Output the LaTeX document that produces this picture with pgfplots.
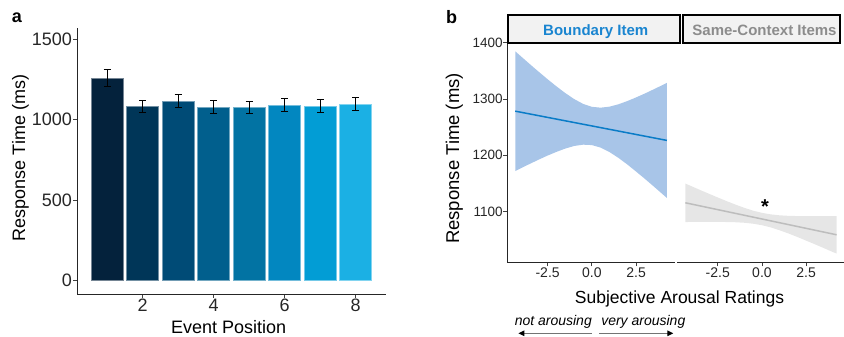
\documentclass[border=0pt]{standalone}
\usepackage{fontspec}
\setmainfont{Liberation Sans}
\usepackage{pgfplots}
\pgfplotsset{compat=1.18}
\usetikzlibrary{arrows.meta}
\definecolor{c1}{HTML}{04223C}
\definecolor{c2}{HTML}{003658}
\definecolor{c3}{HTML}{004B76}
\definecolor{c4}{HTML}{015F8D}
\definecolor{c5}{HTML}{0273A3}
\definecolor{c6}{HTML}{0287C0}
\definecolor{c7}{HTML}{029DD5}
\definecolor{c8}{HTML}{1BB0E4}
\definecolor{bandblue}{HTML}{A8C5E8}
\definecolor{lineblue}{HTML}{0A7CC7}
\definecolor{bandgray}{HTML}{E6E6E6}
\definecolor{linegray}{HTML}{BDBDBD}
\definecolor{stripfill}{HTML}{F2F2F2}
\definecolor{stripblue}{HTML}{1A85D0}
\definecolor{stripgray}{HTML}{8C8C8C}
\pgfplotsset{
  errb/.style={ybar, bar width=0.9, bar shift=0pt, fill=#1, draw=#1!55!white, line width=0.5bp,
    error bars/.cd, y dir=both, y explicit,
    error bar style={line width=1bp, black},
    error mark options={rotate=90, mark size=3.5bp, line width=1bp, black}},
}
\begin{document}
\begin{tikzpicture}
\useasboundingbox (0,0) rectangle (844bp,337bp);
% ---------------- panel a
\begin{axis}[
  at={(77bp,43bp)}, anchor=south west, scale only axis,
  width=308.7bp, height=266bp,
  xmin=0.155, xmax=8.845, ymin=-82.6, ymax=1570.2,
  axis x line=bottom, axis y line=left,
  axis line style={-, line width=0.8bp, black!85},
  tick align=outside, major tick length=3.5bp,
  tick style={line width=0.8bp, black!75},
  xtick={2,4,6,8}, xticklabels={2,4,6,8},
  ytick={0,500,1000,1500}, yticklabels={0,500,1000,1500},
  ticklabel style={font=\fontsize{18bp}{20bp}\selectfont, text=black!85},
  yticklabel style={inner sep=1.5bp}, xticklabel style={inner sep=1.5bp},
  clip=false,
]
\addplot[errb=c1] coordinates {(1,1260) +- (0,52)};
\addplot[errb=c2] coordinates {(2,1084) +- (0,37)};
\addplot[errb=c3] coordinates {(3,1115) +- (0,40)};
\addplot[errb=c4] coordinates {(4,1077) +- (0,40)};
\addplot[errb=c5] coordinates {(5,1078) +- (0,37)};
\addplot[errb=c6] coordinates {(6,1092) +- (0,39)};
\addplot[errb=c7] coordinates {(7,1086) +- (0,39)};
\addplot[errb=c8] coordinates {(8,1099) +- (0,40)};
\end{axis}
% ---------------- panel b, left facet
\begin{axis}[
  at={(507.3bp,74.7bp)}, anchor=south west, scale only axis,
  width=167.7bp, height=219.6bp,
  xmin=-4.78, xmax=4.70, ymin=1009.6, ymax=1400,
  axis x line=bottom, axis y line=left,
  axis line style={-, line width=0.8bp, black!85},
  tick align=outside, major tick length=4bp,
  tick style={line width=0.8bp, black!75},
  xtick={-2.5,0,2.5}, xticklabels={-2.5,0.0,2.5},
  ytick={1100,1200,1300,1400}, yticklabels={1100,1200,1300,1400},
  xticklabel style={font=\fontsize{14bp}{16bp}\selectfont, text=black!85, inner sep=1.5bp},
  yticklabel style={font=\fontsize{13.5bp}{15bp}\selectfont, text=black!85, inner sep=0.5bp},
]
\addplot[fill=bandblue, draw=none] coordinates {
(-4.33,1384.7) (-4,1375.5) (-3.5,1361.7) (-3,1348.2) (-2.5,1335.0) (-2,1322.3) (-1.5,1310.4)
(-1,1299.8) (-0.5,1291.3) (0,1286.0) (0.5,1284.5) (1,1286.3) (1.5,1290.5) (2,1296.2)
(2.5,1302.7) (3,1309.7) (3.5,1317.2) (4,1324.8) (4.24,1328.6)
(4.24,1124.0) (4,1130.6) (3.5,1144.4) (3,1157.9) (2.5,1170.9) (2,1183.6) (1.5,1195.3)
(1,1205.5) (0.5,1213.5) (0,1218.0) (-0.5,1218.7) (-1,1216.4) (-1.5,1211.8) (-2,1205.9)
(-2.5,1199.4) (-3,1192.2) (-3.5,1184.7) (-4,1177.1) (-4.33,1171.9)
} -- cycle;
\addplot[lineblue, line width=1.5bp] coordinates {(-4.33,1278.3) (4.24,1226.3)};
\end{axis}
% ---------------- panel b, right facet
\begin{axis}[
  at={(677.4bp,74.7bp)}, anchor=south west, scale only axis,
  width=167.7bp, height=219.6bp,
  xmin=-4.78, xmax=4.70, ymin=1009.6, ymax=1400,
  axis x line=bottom, axis y line=none,
  axis line style={-, line width=0.8bp, black!85},
  tick align=outside, major tick length=4bp,
  tick style={line width=0.8bp, black!75},
  xtick={-2.5,0,2.5}, xticklabels={-2.5,0.0,2.5}, ytick=\empty,
  xticklabel style={font=\fontsize{14bp}{16bp}\selectfont, text=black!85, inner sep=1.5bp},
  clip=false,
]
\addplot[fill=bandgray, draw=none] coordinates {
(-4.33,1149.6) (-4,1145.1) (-3.5,1138.2) (-3,1131.5) (-2.5,1124.9) (-2,1118.4) (-1.5,1112.2)
(-1,1106.5) (-0.5,1101.4) (0,1097.5) (0.5,1094.8) (1,1093.1) (1.5,1092.2) (2,1091.8)
(2.5,1091.5) (3,1091.5) (3.5,1091.6) (4,1091.7) (4.22,1091.8)
(4.22,1025.2) (4,1027.9) (3.5,1034.8) (3,1041.5) (2.5,1048.1) (2,1054.6) (1.5,1060.8)
(1,1066.5) (0.5,1071.6) (0,1075.5) (-0.5,1078.2) (-1,1079.9) (-1.5,1080.8) (-2,1081.2)
(-2.5,1081.5) (-3,1081.5) (-3.5,1081.4) (-4,1081.3) (-4.33,1081.2)
} -- cycle;
\addplot[linegray, line width=1.5bp] coordinates {(-4.33,1115.4) (4.22,1058.5)};
\node[anchor=north, inner sep=0pt, font=\bfseries\fontsize{20bp}{20bp}\selectfont] at (axis cs:0.17,1120.8) {*};
\end{axis}
% ---------------- strips
\draw[fill=stripfill, line width=2bp] (507.7bp,293.7bp) rectangle (680.2bp,321.5bp);
\draw[fill=stripfill, line width=2bp] (682.7bp,293.7bp) rectangle (840.2bp,321.5bp);
\node[anchor=base, inner sep=0pt, text=stripblue, font=\bfseries\fontsize{15bp}{17bp}\selectfont] at (595.7bp,301bp) {Boundary Item};
\node[anchor=base, inner sep=0pt, text=stripgray, font=\bfseries\fontsize{15bp}{17bp}\selectfont] at (764.5bp,301bp) {Same-Context Items};
% ---------------- labels
\node[anchor=base west, inner sep=0pt, font=\bfseries\fontsize{18bp}{20bp}\selectfont] at (11.7bp,314.3bp) {a};
\node[anchor=base west, inner sep=0pt, font=\bfseries\fontsize{18bp}{20bp}\selectfont] at (446bp,313.7bp) {b};
\node[rotate=90, anchor=base, inner sep=0pt, font=\fontsize{18bp}{20bp}\selectfont] at (25bp,179bp) {Response Time (ms)};
\node[anchor=base, inner sep=0pt, font=\fontsize{18bp}{20bp}\selectfont] at (228.7bp,3.2bp) {Event Position};
\node[rotate=90, anchor=base, inner sep=0pt, font=\fontsize{18.5bp}{20bp}\selectfont] at (459bp,178.5bp) {Response Time (ms)};
\node[anchor=base, inner sep=0pt, font=\fontsize{17.5bp}{20bp}\selectfont] at (679.5bp,33.7bp) {Subjective Arousal Ratings};
\node[anchor=base, inner sep=0pt, font=\itshape\fontsize{14bp}{16bp}\selectfont] at (553.3bp,12bp) {not arousing};
\node[anchor=base, inner sep=0pt, font=\itshape\fontsize{14bp}{16bp}\selectfont] at (643.3bp,12bp) {very arousing};
\draw[-{Triangle[length=6bp,width=5.5bp,color=black]}, line width=1.3bp, color=black!55] (591.7bp,3.7bp) -- (518.3bp,3.7bp);
\draw[-{Triangle[length=6bp,width=5.5bp,color=black]}, line width=1.3bp, color=black!55] (599.3bp,3.7bp) -- (673.3bp,3.7bp);
\end{tikzpicture}
\end{document}
